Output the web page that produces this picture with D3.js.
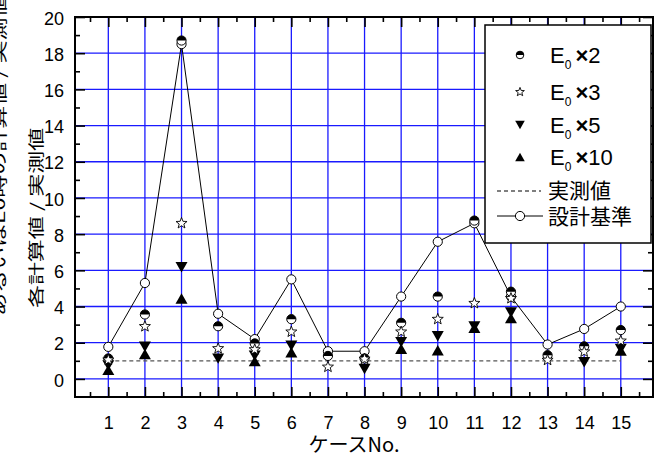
<!DOCTYPE html>
<html>
<head>
<meta charset="utf-8">
<script src="https://cdn.jsdelivr.net/npm/d3@7"></script>
<style>
  body { margin: 0; background: #fff; }
  text { font-family: "Liberation Sans", Arial, "Noto Sans CJK JP", sans-serif; }
  .jp { font-family: "Noto Sans CJK JP", sans-serif; }
</style>
</head>
<body>
<div id="chart"></div>
<script>
var cases = [1, 2, 3, 4, 5, 6, 7, 8, 9, 10, 11, 12, 13, 14, 15];

var design  = [1.77, 5.3, 18.5, 3.6, 2.2, 5.5, 1.53, 1.53, 4.55, 7.58, 8.6, 4.55, 1.9, 2.76, 4.0];
var e0x2    = [1.13, 3.56, 18.7, 2.91, 1.96, 3.3, 1.27, 1.13, 3.1, 4.55, 8.75, 4.82, 1.31, 1.8, 2.7];
var e0x3    = [1.05, 2.9, 8.6, 1.68, 1.62, 2.6, 0.66, 1.1, 2.6, 3.3, 4.18, 4.45, 1.04, 1.5, 2.1];
var e0x5    = [0.75, 1.78, 6.17, 1.12, 1.28, 1.83, null, 0.55, 2.03, 2.36, 2.9, 3.67, null, 0.92, 1.65];
var e0x10   = [0.5, 1.38, 4.44, null, 0.98, 1.47, null, null, 1.67, 1.58, 2.83, 3.36, null, null, 1.57];
var measured = [1, 1, 1, 1, 1, 1, 1, 1, 1, 1, 1, 1, 1, 1, 1];

var xTicks = [1, 2, 3, 4, 5, 6, 7, 8, 9, 10, 11, 12, 13, 14, 15];
var xMinor = [0.5, 1.5, 2.5, 3.5, 4.5, 5.5, 6.5, 7.5, 8.5, 9.5, 10.5, 11.5, 12.5, 13.5, 14.5, 15.5];
var yTicks = [0, 2, 4, 6, 8, 10, 12, 14, 16, 18, 20];
var yMinor = [1, 3, 5, 7, 9, 11, 13, 15, 17, 19];
var yGrid  = [0, 2, 4, 6, 8, 10, 12, 14, 16, 18];

var legendItems = ["2", "3", "5", "10"];

drawChart();

function starPath(R) {
	var r = R * 0.42, p = [];
	for (var i = 0; i < 10; i++) {
		var a = -Math.PI / 2 + i * Math.PI / 5;
		var rr = i % 2 ? r : R;
		p.push([rr * Math.cos(a), rr * Math.sin(a)]);
	}
	return "M" + p.join("L") + "Z";
}

function halfTop(r) {
	return "M" + (-r) + ",0A" + r + "," + r + " 0 0 1 " + r + ",0Z";
}

function triDown(s) { return "M" + (-6 * s) + "," + (-5.2 * s) + "L" + (6 * s) + "," + (-5.2 * s) + "L0," + (5.2 * s) + "Z"; }
function triUp(s) { return "M" + (-6 * s) + "," + (5.2 * s) + "L" + (6 * s) + "," + (5.2 * s) + "L0," + (-5.2 * s) + "Z"; }

function drawChart() {
	var width = 659, height = 454;
	var left = 75, right = 653, top = 17, bottom = 397;

	var svg = d3.select("#chart").append("svg")
		.attr("width", width)
		.attr("height", height);

	var x = d3.scaleLinear().domain([0.09, 15.88]).range([left, right]);
	var y = d3.scaleLinear().domain([-1, 20]).range([bottom, top]);

	// grid
	var grid = svg.append("g").attr("stroke", "#1a1aff").attr("stroke-width", 1.3);
	grid.selectAll(".gx").data(xTicks).enter().append("line")
		.attr("x1", d => x(d)).attr("x2", d => x(d))
		.attr("y1", top).attr("y2", bottom);
	grid.selectAll(".gy").data(yGrid).enter().append("line")
		.attr("y1", d => y(d)).attr("y2", d => y(d))
		.attr("x1", left).attr("x2", right);

	// ticks on all four sides, pointing inward
	function ticks(axisFn, scale, vals, size, pos, labels) {
		var ax = axisFn(scale).tickValues(vals).tickSizeInner(-size).tickSizeOuter(0);
		if (labels) { ax.tickPadding(labels); } else { ax.tickFormat(""); }
		var g = svg.append("g").attr("transform", pos).call(ax);
		g.select(".domain").remove();
		g.selectAll("line").attr("stroke", "#000").attr("stroke-width", 1.6);
		return g;
	}
	var gxb = ticks(d3.axisBottom, x, xTicks, 10, "translate(0," + bottom + ")", 19);
	ticks(d3.axisBottom, x, xMinor, 5, "translate(0," + bottom + ")");
	ticks(d3.axisTop, x, xTicks, 10, "translate(0," + top + ")");
	ticks(d3.axisTop, x, xMinor, 5, "translate(0," + top + ")");
	var gyl = ticks(d3.axisLeft, y, yTicks, 10, "translate(" + left + ",0)", 11);
	ticks(d3.axisLeft, y, yMinor, 5, "translate(" + left + ",0)");
	ticks(d3.axisRight, y, yTicks, 10, "translate(" + right + ",0)");
	ticks(d3.axisRight, y, yMinor, 5, "translate(" + right + ",0)");

	gxb.selectAll("text").attr("font-size", 18).attr("fill", "#000")
		.attr("font-family", "Liberation Sans, Arial, sans-serif");
	gyl.selectAll("text").attr("font-size", 18).attr("fill", "#000").attr("dy", "0.4em")
		.attr("font-family", "Liberation Sans, Arial, sans-serif");

	// frame
	svg.append("rect")
		.attr("x", left).attr("y", top)
		.attr("width", right - left).attr("height", bottom - top)
		.attr("fill", "none").attr("stroke", "#000").attr("stroke-width", 2);

	// measured line
	svg.append("path")
		.datum(cases)
		.attr("fill", "none").attr("stroke", "#555").attr("stroke-width", 1.3)
		.attr("stroke-dasharray", "4,3")
		.attr("d", d3.line().x(d => x(d)).y((d, i) => y(measured[i])));

	// design line
	svg.append("path")
		.datum(cases)
		.attr("fill", "none").attr("stroke", "#000").attr("stroke-width", 1)
		.attr("d", d3.line().x(d => x(d)).y((d, i) => y(design[i])));

	svg.append("g").selectAll("circle")
		.data(cases).enter().append("circle")
		.attr("cx", d => x(d)).attr("cy", (d, i) => y(design[i]))
		.attr("r", 4.6).attr("fill", "#fff").attr("stroke", "#000").attr("stroke-width", 1);

	function pts(vals) {
		return cases.map((c, i) => ({ c: c, v: vals[i] })).filter(d => d.v != null);
	}

	svg.append("g").selectAll("path")
		.data(pts(e0x10)).enter().append("path")
		.attr("transform", d => "translate(" + x(d.c) + "," + y(d.v) + ")")
		.attr("d", triUp(1)).attr("fill", "#000");

	svg.append("g").selectAll("path")
		.data(pts(e0x5)).enter().append("path")
		.attr("transform", d => "translate(" + x(d.c) + "," + y(d.v) + ")")
		.attr("d", triDown(1)).attr("fill", "#000");

	var half = svg.append("g").selectAll("g")
		.data(pts(e0x2)).enter().append("g")
		.attr("transform", d => "translate(" + x(d.c) + "," + y(d.v) + ")");
	half.append("circle").attr("r", 4.6).attr("fill", "#fff").attr("stroke", "#000").attr("stroke-width", 1);
	half.append("path").attr("d", halfTop(4.6)).attr("fill", "#000");

	svg.append("g").selectAll("path")
		.data(pts(e0x3)).enter().append("path")
		.attr("transform", d => "translate(" + x(d.c) + "," + y(d.v) + ")")
		.attr("d", starPath(5.8)).attr("fill", "#fff").attr("stroke", "#000").attr("stroke-width", 0.9);

	// axis titles
	svg.append("text")
		.attr("class", "jp")
		.attr("x", 354).attr("y", 452)
		.attr("text-anchor", "middle")
		.attr("font-size", 20)
		.text("ケースNo.");

	svg.append("text")
		.attr("class", "jp")
		.attr("transform", "translate(35,218) rotate(-90) scale(1,0.68)")
		.attr("text-anchor", "middle")
		.attr("dominant-baseline", "central")
		.attr("font-size", 23)
		.text("各計算値 / 実測値");

	// outer title line, mostly outside the picture as in the original
	svg.append("text")
		.attr("class", "jp")
		.attr("transform", "translate(-2,316) rotate(-90) scale(1,0.68)")
		.attr("text-anchor", "start")
		.attr("dominant-baseline", "central")
		.attr("font-size", 23)
		.text("あるいはE0時の計算値 / 実測値");

	// legend
	var lg = svg.append("g");
	lg.append("rect")
		.attr("x", 485).attr("y", 25).attr("width", 166).attr("height", 218)
		.attr("fill", "#fff").attr("stroke", "#000").attr("stroke-width", 1.5);

	var rows = [55, 92, 125, 157];
	var symX = 520, txtX = 550;

	var s0 = lg.append("g").attr("transform", "translate(" + symX + "," + rows[0] + ")");
	s0.append("circle").attr("r", 3.8).attr("fill", "#fff").attr("stroke", "#000").attr("stroke-width", 1);
	s0.append("path").attr("d", halfTop(3.8)).attr("fill", "#000");
	lg.append("path").attr("transform", "translate(" + symX + "," + rows[1] + ")")
		.attr("d", starPath(4.6)).attr("fill", "#fff").attr("stroke", "#000").attr("stroke-width", 0.9);
	lg.append("path").attr("transform", "translate(" + symX + "," + rows[2] + ")")
		.attr("d", triDown(0.8)).attr("fill", "#000");
	lg.append("path").attr("transform", "translate(" + symX + "," + rows[3] + ")")
		.attr("d", triUp(0.8)).attr("fill", "#000");

	legendItems.forEach(function(k, i) {
		var t = lg.append("text").attr("x", txtX).attr("y", rows[i] + 8).attr("font-size", 22);
		t.append("tspan").text("E");
		t.append("tspan").attr("font-size", 12).attr("dy", 6).text("0");
		t.append("tspan").attr("dy", -6).attr("dx", 4).attr("font-weight", "bold").text("×");
		t.append("tspan").text(k);
	});

	lg.append("line").attr("x1", 497).attr("x2", 541).attr("y1", 191).attr("y2", 191)
		.attr("stroke", "#555").attr("stroke-width", 1.3).attr("stroke-dasharray", "4,3");
	lg.append("line").attr("x1", 497).attr("x2", 543).attr("y1", 216).attr("y2", 216)
		.attr("stroke", "#000").attr("stroke-width", 1);
	lg.append("circle").attr("cx", symX).attr("cy", 216).attr("r", 4.6)
		.attr("fill", "#fff").attr("stroke", "#000").attr("stroke-width", 1);

	lg.append("text").attr("class", "jp").attr("x", 548).attr("y", 198).attr("font-size", 21).text("実測値");
	lg.append("text").attr("class", "jp").attr("x", 548).attr("y", 224).attr("font-size", 21).text("設計基準");
}
</script>
</body>
</html>
